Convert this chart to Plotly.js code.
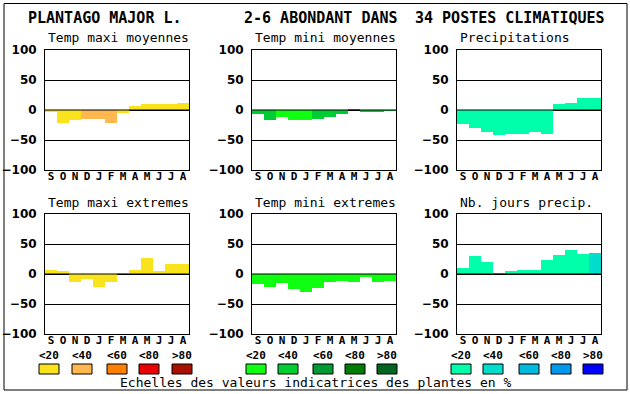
<!DOCTYPE html>
<html>
<head>
<meta charset="utf-8">
<script src="https://cdn.plot.ly/plotly-3.0.1.min.js"></script>
<style>html,body{margin:0;padding:0;background:#fff;}#chart{width:630px;height:394px;}</style>
</head>
<body>
<div id="chart"></div>
<script>
// ---- data ----
const months = ['S','O','N','D','J','F','M','A','M','J','J','A'];
const yTicks = [-100, -50, 0, 50, 100];
const classLabels = ['<20', '<40', '<60', '<80', '>80'];

const panelTitles = ['Temp maxi moyennes', 'Temp mini moyennes', 'Precipitations',
                     'Temp maxi extremes', 'Temp mini extremes', 'Nb. jours precip.'];

const tmaxMoy      = [-4, -22, -17, -15.5, -15.5, -22, -5.5, 7, 10.5, 10.5, 10.5, 12];
const tmaxMoyCls   = [0, 0, 0, 1, 1, 1, 0, 0, 0, 0, 0, 0];
const tminMoy      = [-7, -17, -12, -17, -17, -15.5, -12, -7, 2, -4, -4, -2];
const tminMoyCls   = [1, 1, 0, 0, 0, 1, 1, 1, 1, 1, 1, 1];
const precip       = [-24, -30.5, -37, -42, -40.5, -40.5, -37, -40.5, 10.5, 12.5, 20.5, 20.5];
const precipCls    = [0, 0, 0, 0, 0, 0, 0, 0, 0, 0, 0, 0];
const tmaxExt      = [7, 5.5, -14, -8, -22, -14, 2, 7, 27, 5.5, 17, 17];
const tmaxExtCls   = [0, 0, 0, 0, 0, 0, 0, 0, 0, 0, 0, 0];
const tminExt      = [-17, -22, -15.5, -25.5, -30.5, -24, -14, -12, -14, -5.5, -14, -12];
const tminExtCls   = [0, 0, 0, 0, 0, 0, 0, 0, 0, 0, 0, 0];
const nbJours      = [10.5, 30.5, 20.5, 2, 5.5, 7, 7, 24, 32, 40.5, 34, 35.5];
const nbJoursCls   = [0, 0, 0, 0, 0, 0, 0, 0, 0, 0, 0, 1];

const paletteTemp  = ['#f8e31c', '#ffb84f', '#ff7f00', '#ea0000', '#a81000'];
const paletteGreen = ['#10ff10', '#00cc33', '#009a33', '#007d00', '#00661f'];
const paletteRain  = ['#00ffaa', '#00ddcc', '#00bbdd', '#0099ee', '#0000ff'];

// ---- layout helpers ----
const W = 630, H = 394;
const fx = x => x / W;
const fy = y => 1 - y / H;

const panels = [
  {vals: tmaxMoy, cls: tmaxMoyCls, pal: paletteTemp,  left: 45,  top: 50},
  {vals: tminMoy, cls: tminMoyCls, pal: paletteGreen, left: 252, top: 50},
  {vals: precip,  cls: precipCls,  pal: paletteRain,  left: 457, top: 50},
  {vals: tmaxExt, cls: tmaxExtCls, pal: paletteTemp,  left: 45,  top: 214},
  {vals: tminExt, cls: tminExtCls, pal: paletteGreen, left: 252, top: 214},
  {vals: nbJours, cls: nbJoursCls, pal: paletteRain,  left: 457, top: 214}
];
const PW = 144, PH = 120;

const mono = 'DejaVu Sans Mono, monospace';
const traces = [];
const layout = {
  width: W, height: H,
  margin: {l: 0, r: 0, t: 0, b: 0},
  paper_bgcolor: '#ffffff',
  plot_bgcolor: '#ffffff',
  showlegend: false,
  bargap: 0,
  shapes: [],
  annotations: []
};

const idx = months.map((m, i) => i);

panels.forEach((p, k) => {
  const n = k + 1;
  const xa = 'x' + (n === 1 ? '' : n);
  const ya = 'y' + (n === 1 ? '' : n);
  traces.push({
    type: 'bar',
    x: idx,
    y: p.vals,
    width: 1,
    marker: {color: p.cls.map(c => p.pal[c]), line: {width: 0}},
    xaxis: xa, yaxis: ya,
    hoverinfo: 'skip'
  });
  const xKey = 'xaxis' + (n === 1 ? '' : n);
  const yKey = 'yaxis' + (n === 1 ? '' : n);
  layout[xKey] = {
    domain: [fx(p.left), fx(p.left + PW)],
    anchor: ya,
    range: [-0.5, 11.5],
    tickvals: idx, ticktext: months,
    ticks: '', showgrid: false, zeroline: false,
    showline: true, mirror: true, linecolor: '#000', linewidth: 1,
    ticklabelstandoff: -4,
    tickfont: {family: mono, size: 11, color: '#000', weight: 'bold'},
    fixedrange: true
  };
  layout[yKey] = {
    domain: [fy(p.top + PH), fy(p.top)],
    anchor: xa,
    range: [-100, 100],
    tickvals: yTicks,
    ticks: '', showgrid: true, gridcolor: '#000', gridwidth: 1,
    zeroline: false,
    showline: true, mirror: true, linecolor: '#000', linewidth: 1,
    ticklabelstandoff: 5,
    tickfont: {family: 'DejaVu Sans, sans-serif', size: 12, color: '#000', weight: 'bold'},
    fixedrange: true
  };
  // zero line above bars
  layout.shapes.push({
    type: 'line', xref: xa + ' domain', yref: ya,
    x0: 0, x1: 1, y0: 0, y1: 0,
    line: {color: '#000', width: 1.2}, layer: 'above'
  });
  // panel title
  layout.annotations.push({
    xref: 'paper', yref: 'paper',
    x: fx(p.left + 1), y: fy(p.top - 12),
    xanchor: 'left', yanchor: 'middle',
    text: panelTitles[k], showarrow: false,
    font: {family: mono, size: 13, color: '#000'}
  });
});

// main title pieces
[['PLANTAGO MAJOR L.', 26], ['2-6 ABONDANT DANS', 242], ['34 POSTES CLIMATIQUES', 413]].forEach(t => {
  layout.annotations.push({
    xref: 'paper', yref: 'paper', x: fx(t[1]), y: fy(18),
    xanchor: 'left', yanchor: 'middle', showarrow: false,
    text: t[0], font: {family: mono, size: 15, color: '#000', weight: 'bold'}
  });
});

// legend scales
const legendGroups = [
  {pal: paletteTemp,  xs: [39, 72, 107, 139, 172]},
  {pal: paletteGreen, xs: [246, 278, 313, 345, 377]},
  {pal: paletteRain,  xs: [451, 483, 519, 551, 583]}
];
legendGroups.forEach(g => {
  g.xs.forEach((x0, i) => {
    layout.shapes.push({
      type: 'rect', xref: 'paper', yref: 'paper',
      x0: fx(x0), x1: fx(x0 + 20), y0: fy(374), y1: fy(364),
      fillcolor: g.pal[i], line: {color: '#000', width: 1}, layer: 'above'
    });
    layout.annotations.push({
      xref: 'paper', yref: 'paper', x: fx(x0 + 10), y: fy(355),
      xanchor: 'center', yanchor: 'middle', showarrow: false,
      text: classLabels[i].replace('<', '&lt;').replace('>', '&gt;'),
      font: {family: mono, size: 11, color: '#000', weight: 'bold'}
    });
  });
});

layout.annotations.push({
  xref: 'paper', yref: 'paper', x: fx(316), y: fy(382),
  xanchor: 'center', yanchor: 'middle', showarrow: false,
  text: 'Echelles des valeurs indicatrices des plantes en %',
  font: {family: mono, size: 13, color: '#000'}
});

// outer frame
layout.shapes.push({
  type: 'rect', xref: 'paper', yref: 'paper',
  x0: fx(4), x1: fx(627), y0: fy(390), y1: fy(3.5),
  line: {color: '#000', width: 1}, fillcolor: 'rgba(0,0,0,0)', layer: 'above'
});

Plotly.newPlot('chart', traces, layout, {staticPlot: true, displayModeBar: false});
</script>
</body>
</html>
